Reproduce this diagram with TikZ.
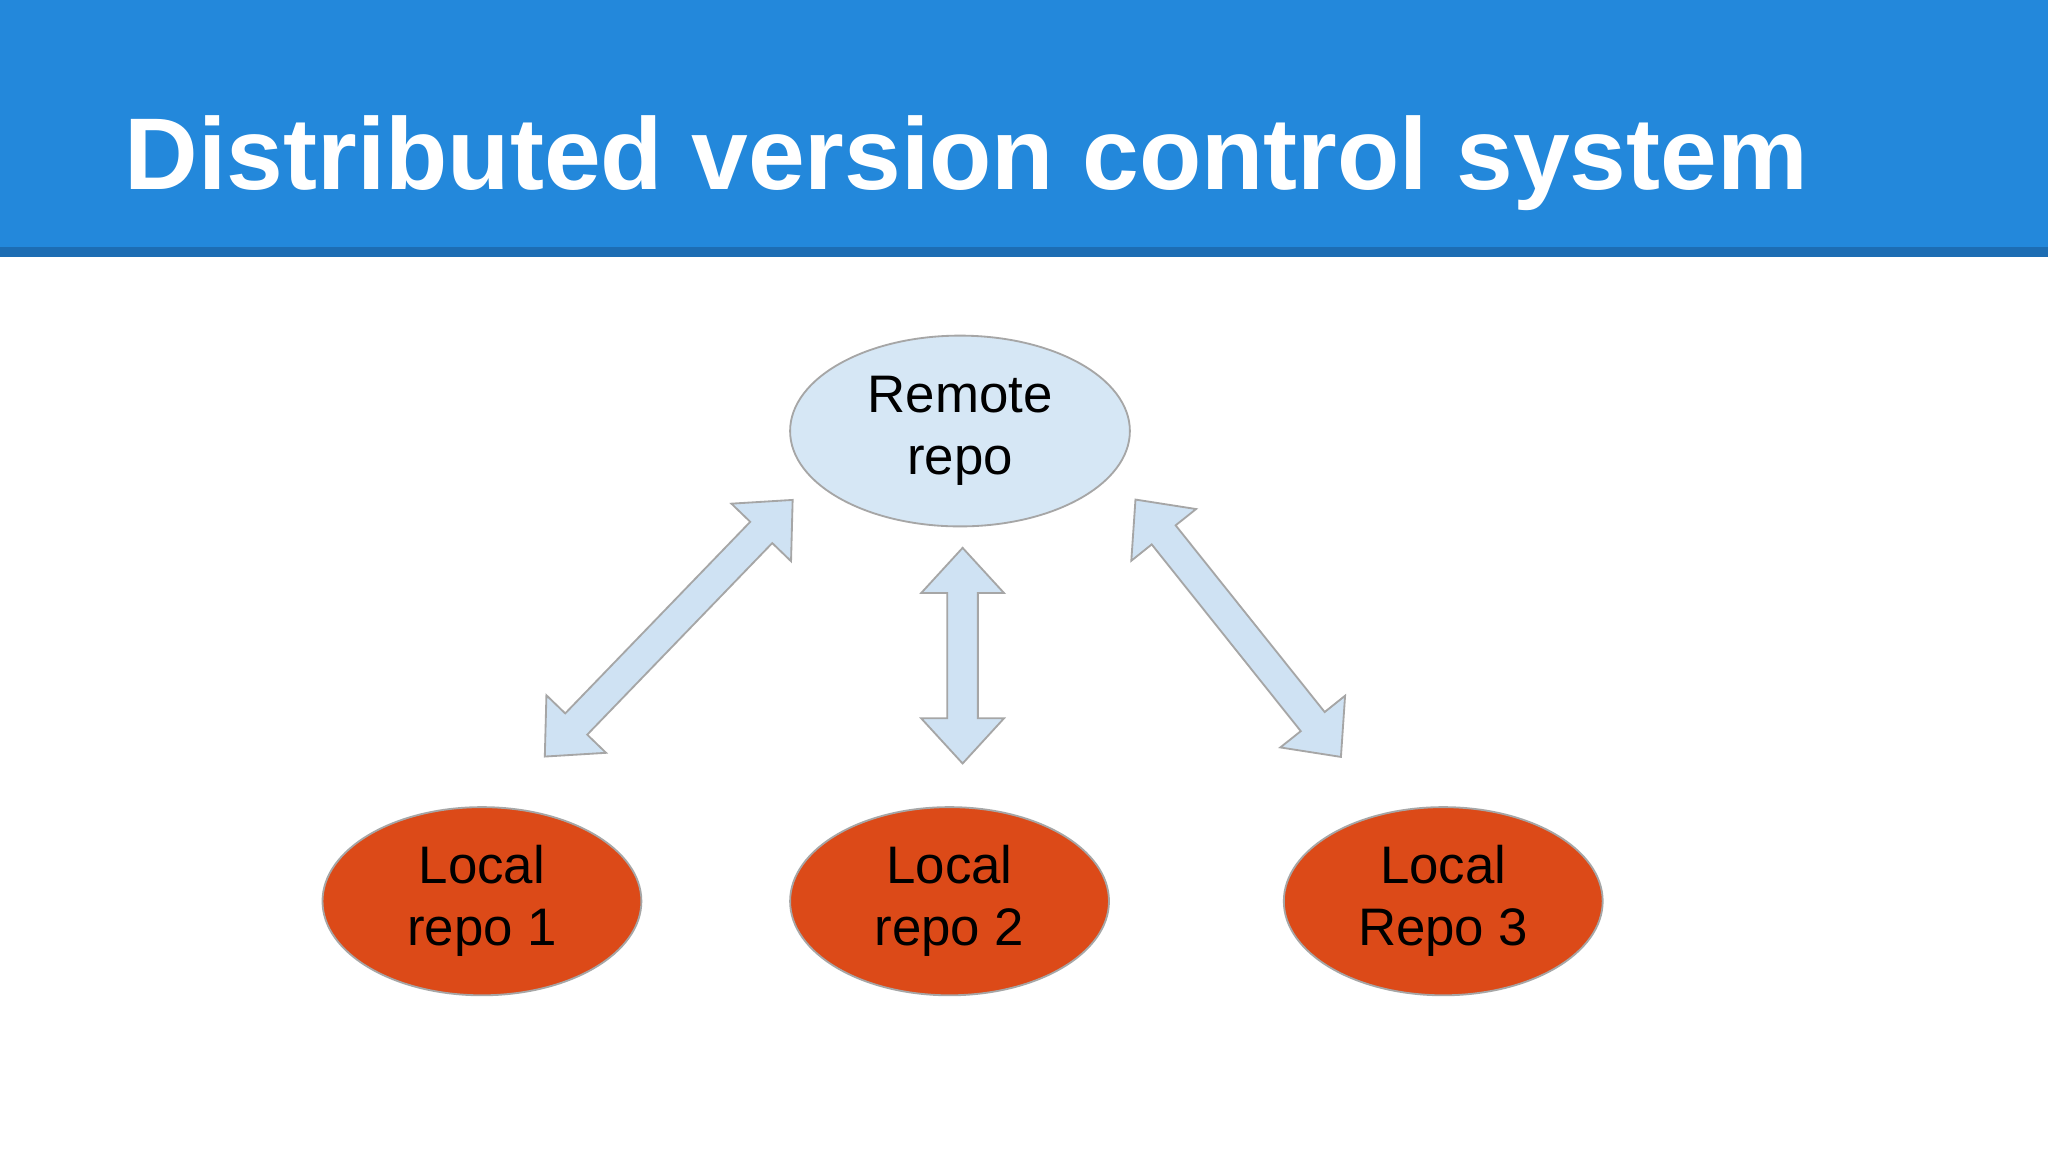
\documentclass[tikz,border=0pt]{standalone}
\usepackage{fontspec}
\setmainfont{Liberation Sans}
\usetikzlibrary{shapes.geometric,shapes.arrows}
\definecolor{hdr}{HTML}{2388DB}
\definecolor{hdrdark}{HTML}{1D6DB3}
\definecolor{remfill}{HTML}{D6E7F5}
\definecolor{locfill}{HTML}{DC4A18}
\definecolor{arrfill}{HTML}{CFE2F3}
\begin{document}
\begin{tikzpicture}[x=0.01cm,y=-0.01cm,
  repo/.style={ellipse,draw=gray!70,line width=0.4pt,align=center,inner sep=0pt,font=\fontsize{11.5}{13.5}\selectfont,text=black},
  remote/.style={repo,fill=remfill,minimum width=2.6cm,minimum height=1.46cm},
  local/.style={repo,fill=locfill,minimum width=2.44cm,minimum height=1.44cm},
  barrow/.style={double arrow,draw=gray!70,fill=arrfill,line width=0.4pt,inner sep=0.11cm,
     double arrow head extend=0.2cm,double arrow tip angle=85}]
\useasboundingbox (0,0) rectangle (1568,882);
\fill[white] (0,0) rectangle (1568,882);
\fill[hdr] (0,0) rectangle (1568,189);
\fill[hdrdark] (0,189) rectangle (1568,197);
\node[anchor=west,inner sep=0pt,text=white,font=\fontsize{22.2}{26}\selectfont\bfseries] (title) at (95,125) {Distributed version control system};
\node[remote] (rem) at (735,330) {Remote\\repo};
\node[local] (l1) at (369,690) {Local\\repo 1};
\node[local] (l2) at (727,690) {Local\\repo 2};
\node[local] (l3) at (1105,690) {Local\\Repo 3};
\node[barrow,minimum height=2.73cm,rotate=46] (a1) at (512,481) {};
\node[barrow,minimum height=1.65cm,rotate=90] (a2) at (737,502) {};
\node[barrow,minimum height=2.52cm,rotate=-51.4] (a3) at (948,481) {};
\end{tikzpicture}
\end{document}
